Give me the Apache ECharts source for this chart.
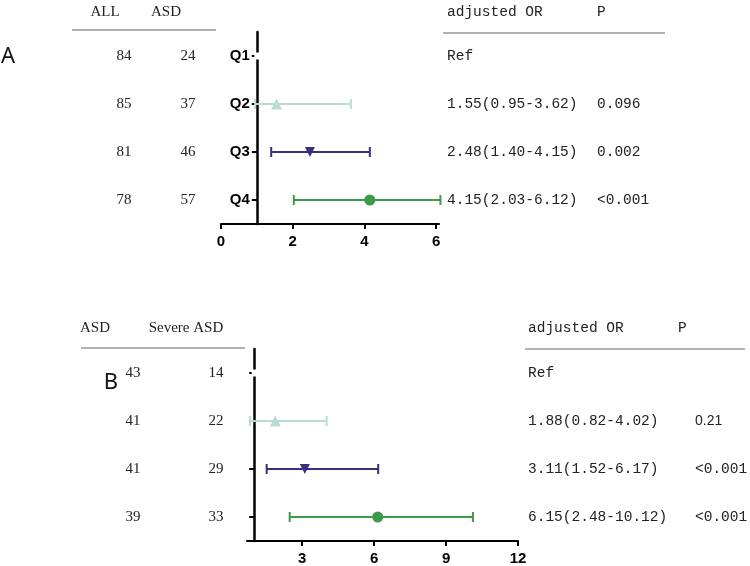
<!DOCTYPE html>
<html>
<head>
<meta charset="utf-8">
<script src="https://cdn.jsdelivr.net/npm/echarts@6/dist/echarts.min.js"></script>
<style>html,body{margin:0;padding:0;background:#fff;}#c{width:750px;height:566px;}</style>
</head>
<body>
<div id="c"></div>
<script>
// ---------- data ----------
const categories = ['Q1', 'Q2', 'Q3', 'Q4'];

// Panel A
const allCountsA = [84, 85, 81, 78];
const asdCountsA = [24, 37, 46, 57];
const orA   = [1, 1.55, 2.48, 4.15];
const lowA  = [null, 0.95, 1.40, 2.03];
const highA = [null, 3.62, 4.15, 6.12];
const pA    = ['', '0.096', '0.002', '<0.001'];
const xTicksA = [0, 2, 4, 6];

// Panel B
const asdCountsB = [43, 41, 41, 39];
const severeCountsB = [14, 22, 29, 33];
const orB   = [1, 1.88, 3.11, 6.15];
const lowB  = [null, 0.82, 1.52, 2.48];
const highB = [null, 4.02, 6.17, 10.12];
const pB    = ['', '0.21', '<0.001', '<0.001'];
const xTicksB = [3, 6, 9, 12];

// ---------- style ----------
const colors = ['#ffffff', '#b8dbd5', '#3b2d7f', '#3e9a47'];
const symbols = ['rect', 'triangle', 'triangle', 'circle'];
const rotations = [0, 0, 180, 0];
const sizes = [[5, 7], 11, 10, 11];

const gridA = {left: 221, top: 32, width: 218, height: 192};
const gridB = {left: 247, top: 349, width: 271, height: 193};
const xMinA = 0, xMaxA = 6.08;
const xMinB = 0.7, xMaxB = 12;
const refLine = 1;

function orText(i, or, lo, hi) {
  if (lo[i] == null) return 'Ref';
  return or[i].toFixed(2) + '(' + lo[i].toFixed(2) + '-' + hi[i].toFixed(2) + ')';
}

function xAxisCfg(gi, min, max, ticks) {
  return {
    type: 'value', gridIndex: gi, min: min, max: max,
    splitLine: {show: false},
    axisLine: {show: true, lineStyle: {color: '#000', width: 2}},
    axisTick: {show: true, length: 5, lineStyle: {color: '#000', width: 2}, customValues: ticks},
    axisLabel: {customValues: ticks, color: '#000', fontWeight: 'bold', fontSize: 15,
      fontFamily: 'Liberation Sans, Arial, sans-serif', margin: 10}
  };
}
function yAxisCfg(gi, grid, min, max, showLabel) {
  const offset = -(refLine - min) / (max - min) * grid.width;
  return {
    type: 'category', gridIndex: gi, data: categories, inverse: true,
    position: 'left', offset: offset,
    axisLine: {show: true, onZero: false, lineStyle: {color: '#000', width: 2.5}},
    axisTick: {show: true, alignWithLabel: true, length: 5, lineStyle: {color: '#000', width: 2}},
    axisLabel: {show: showLabel, color: '#000', fontWeight: 'bold', fontSize: 15,
      fontFamily: 'Liberation Sans, Arial, sans-serif', margin: 7},
    splitLine: {show: false}
  };
}

function errSeries(gi, lo, hi) {
  const data = [];
  for (let i = 0; i < categories.length; i++) {
    if (lo[i] != null) data.push({value: [i, lo[i], hi[i]], itemStyle: {color: colors[i]}});
  }
  return {
    type: 'custom', xAxisIndex: gi, yAxisIndex: gi, z: 3,
    encode: {x: [1, 2], y: 0},
    data: data,
    renderItem: function (params, api) {
      const c = api.value(0);
      const p1 = api.coord([api.value(1), c]);
      const p2 = api.coord([api.value(2), c]);
      const col = api.visual('color');
      const st = {stroke: col, lineWidth: 2};
      const h = 5;
      return {type: 'group', children: [
        {type: 'line', shape: {x1: p1[0], y1: p1[1], x2: p2[0], y2: p2[1]}, style: st},
        {type: 'line', shape: {x1: p1[0], y1: p1[1] - h, x2: p1[0], y2: p1[1] + h}, style: st},
        {type: 'line', shape: {x1: p2[0], y1: p2[1] - h, x2: p2[0], y2: p2[1] + h}, style: st}
      ]};
    }
  };
}
function pointSeries(gi, or) {
  return {
    type: 'scatter', xAxisIndex: gi, yAxisIndex: gi, z: 4,
    data: or.map((v, i) => ({
      value: [v, i], symbol: symbols[i], symbolRotate: rotations[i], symbolSize: sizes[i],
      itemStyle: {color: colors[i], opacity: 1}
    })),
    emphasis: {disabled: true}
  };
}

const chart = echarts.init(document.getElementById('c'), null, {renderer: 'canvas'});
chart.setOption({
  animation: false,
  backgroundColor: '#fff',
  grid: [gridA, gridB],
  xAxis: [xAxisCfg(0, xMinA, xMaxA, xTicksA), xAxisCfg(1, xMinB, xMaxB, xTicksB)],
  yAxis: [yAxisCfg(0, gridA, xMinA, xMaxA, true), yAxisCfg(1, gridB, xMinB, xMaxB, false)],
  series: [errSeries(0, lowA, highA), pointSeries(0, orA), errSeries(1, lowB, highB), pointSeries(1, orB)]
});

// ---------- tables ----------
const serif = '15px "Liberation Serif", "DejaVu Serif", serif';
const mono = '14.5px "Liberation Mono", "DejaVu Sans Mono", monospace';
const lineCol = '#999';
const g = [];
function txt(s, x, y, font, align) {
  g.push({type: 'text', x: x, y: y, silent: true,
    style: {text: String(s), font: font, fill: '#222', textAlign: align || 'left', textVerticalAlign: 'middle'}});
}
function hline(x1, x2, y) {
  g.push({type: 'line', silent: true, shape: {x1: x1, y1: y, x2: x2, y2: y}, style: {stroke: lineCol, lineWidth: 1.5}});
}
function rowY(gi, i) {
  return chart.convertToPixel({gridIndex: gi}, [refLine, i])[1];
}

// panel labels
g.push({type: 'text', x: 8, y: 57, silent: true, style: {text: 'A', font: '22px "Noto Sans", "Liberation Sans", sans-serif', fill: '#111', textAlign: 'center', textVerticalAlign: 'middle'}});
g.push({type: 'text', x: 111, y: 383, silent: true, style: {text: 'B', font: '22px "Noto Sans", "Liberation Sans", sans-serif', fill: '#111', textAlign: 'center', textVerticalAlign: 'middle'}});

// Panel A left table
txt('ALL', 105, 12, serif, 'center');
txt('ASD', 166, 12, serif, 'center');
hline(72, 216, 30);
for (let i = 0; i < categories.length; i++) {
  const y = rowY(0, i);
  txt(allCountsA[i], 124, y, serif, 'center');
  txt(asdCountsA[i], 188, y, serif, 'center');
}
// Panel A right table
txt('adjusted OR', 447, 12, mono, 'left');
txt('P', 597, 12, mono, 'left');
hline(443, 665, 33);
for (let i = 0; i < categories.length; i++) {
  const y = rowY(0, i);
  txt(orText(i, orA, lowA, highA), 447, y, mono, 'left');
  if (pA[i]) txt(pA[i], 597, y, mono, 'left');
}

// Panel B left table
txt('ASD', 95, 328, serif, 'center');
txt('Severe ASD', 186, 328, serif, 'center');
hline(81, 245, 348);
for (let i = 0; i < categories.length; i++) {
  const y = rowY(1, i);
  txt(asdCountsB[i], 133, y, serif, 'center');
  txt(severeCountsB[i], 216, y, serif, 'center');
}
// Panel B right table
txt('adjusted OR', 528, 328, mono, 'left');
txt('P', 678, 328, mono, 'left');
hline(525, 745, 349);
for (let i = 0; i < categories.length; i++) {
  const y = rowY(1, i);
  txt(orText(i, orB, lowB, highB), 528, y, mono, 'left');
  if (pB[i]) txt(pB[i], 695, y, pB[i] === '0.21' ? '14px "Liberation Sans", Arial, sans-serif' : mono, 'left');
}

chart.setOption({graphic: {elements: g}});
</script>
</body>
</html>
